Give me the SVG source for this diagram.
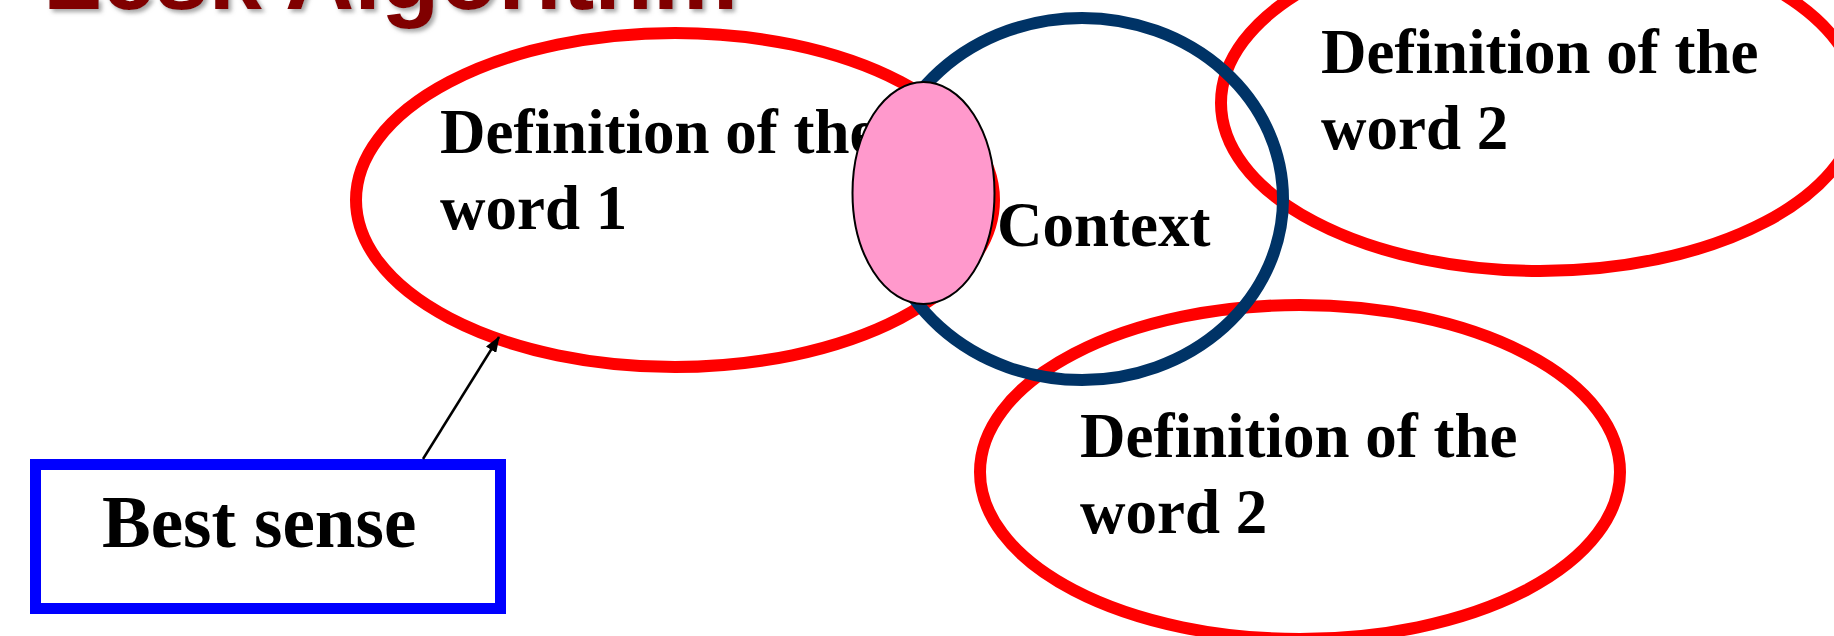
<svg xmlns="http://www.w3.org/2000/svg" width="1834" height="636" viewBox="0 0 1834 636">
  <defs>
    <filter id="shadow" x="-5%" y="-50%" width="110%" height="200%">
      <feDropShadow dx="3" dy="3" stdDeviation="2" flood-color="#808080" flood-opacity="0.7"/>
    </filter>
    <marker id="arrow" viewBox="0 0 16 12" refX="15" refY="6" markerWidth="16" markerHeight="12" markerUnits="userSpaceOnUse" orient="auto">
      <path d="M0,0 L16,6 L0,12 z" fill="#000"/>
    </marker>
  </defs>
  <style>
    .def { fill: none; stroke: #FF0000; stroke-width: 12; }
    .ctx { fill: none; stroke: #003366; stroke-width: 12; }
    .lbl { font-family: "Liberation Serif", "Times New Roman", serif; font-weight: bold; font-size: 63px; fill: #000; }
    .title { font-family: "Liberation Sans", Arial, sans-serif; font-weight: bold; font-size: 96px; fill: #800000; }
  </style>
  <rect width="1834" height="636" fill="#fff"/>
  <g id="title">
    <text class="title" x="43" y="9" filter="url(#shadow)">Lesk Algorithm</text>
  </g>
  <g id="def-word1">
    <ellipse class="def" cx="675" cy="200" rx="319" ry="167"/>
    <text class="lbl" x="440" y="153">Definition of the</text>
    <text class="lbl" x="440" y="229">word 1</text>
  </g>
  <g id="def-word2-top">
    <ellipse class="def" cx="1540" cy="103" rx="319" ry="168"/>
    <text class="lbl" x="1321" y="73">Definition of the</text>
    <text class="lbl" x="1321" y="149">word 2</text>
  </g>
  <g id="def-word2-bottom">
    <ellipse class="def" cx="1300" cy="472" rx="320" ry="167"/>
    <text class="lbl" x="1080" y="457">Definition of the</text>
    <text class="lbl" x="1080" y="533">word 2</text>
  </g>
  <g id="context">
    <ellipse class="ctx" cx="1082" cy="199" rx="201" ry="181"/>
  </g>
  <g id="overlap">
    <ellipse cx="923.5" cy="193" rx="71" ry="111" fill="#FF99CC" stroke="#000" stroke-width="2"/>
  </g>
  <g id="context-label">
    <text class="lbl" x="997" y="246">Context</text>
  </g>
  <g id="best-sense">
    <rect x="35.5" y="464.5" width="465" height="144" fill="#fff" stroke="#0000FF" stroke-width="11"/>
    <text class="lbl" x="102" y="547" style="font-size:73px">Best sense</text>
  </g>
  <g id="connectors">
    <line x1="423" y1="459" x2="499" y2="337" stroke="#000" stroke-width="2.5" marker-end="url(#arrow)"/>
  </g>
</svg>
